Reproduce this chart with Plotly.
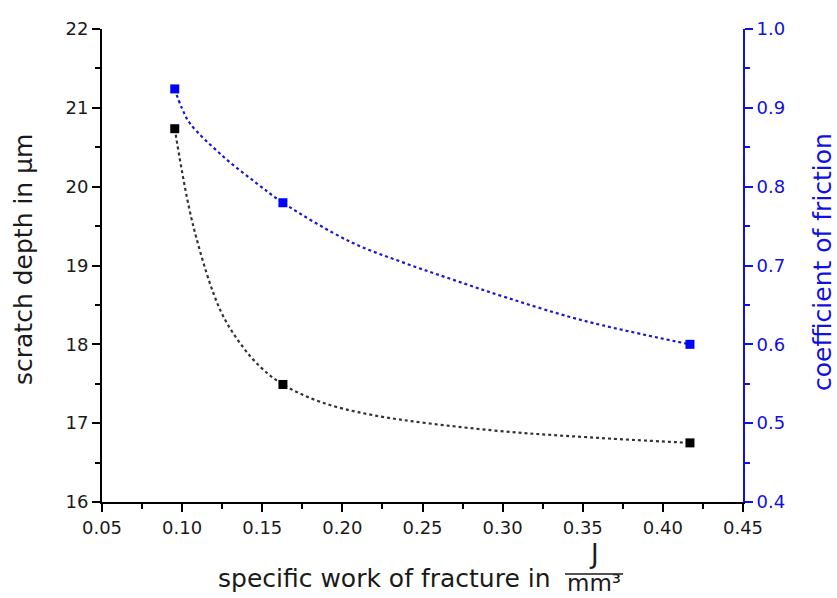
import plotly.graph_objects as go

# measured points
x_pts = [0.0954, 0.1629, 0.4169]
depth_pts = [20.735, 17.491, 16.750]
cof_pts = [0.924, 0.7796, 0.600]

# dotted fit curves
depth_curve_x = [0.0954, 0.1071, 0.1238, 0.1363, 0.1488, 0.1629, 0.1863, 0.2196,
                 0.2925, 0.3550, 0.4169]
depth_curve_y = [20.735, 19.49, 18.434, 18.011, 17.714, 17.491, 17.270, 17.100,
                 16.911, 16.819, 16.750]
cof_curve_x = [0.0952, 0.1000, 0.1050, 0.1258, 0.1467, 0.1629, 0.2050, 0.2363, 0.2675,
               0.3029, 0.3506, 0.4169]
cof_curve_y = [0.924, 0.899, 0.880, 0.838, 0.804, 0.7796, 0.730, 0.705, 0.683,
               0.659, 0.630, 0.600]

x_ticks = [0.05, 0.10, 0.15, 0.20, 0.25, 0.30, 0.35, 0.40, 0.45]
left_ticks = [16, 17, 18, 19, 20, 21, 22]
right_ticks = [0.4, 0.5, 0.6, 0.7, 0.8, 0.9, 1.0]

BLUE = "#0000ff"
AXBLUE = "#1010e0"
TXT = "#1a1a1a"
FONT = "DejaVu Sans, Verdana, sans-serif"

fig = go.Figure()
fig.add_trace(go.Scatter(x=depth_curve_x, y=depth_curve_y, mode="lines",
                         line=dict(color="#333333", width=2.2, dash="dot", shape="spline"),
                         showlegend=False, hoverinfo="skip"))
fig.add_trace(go.Scatter(x=cof_curve_x, y=cof_curve_y, mode="lines", yaxis="y2",
                         line=dict(color="#1818d0", width=2.2, dash="dot", shape="spline"),
                         showlegend=False, hoverinfo="skip"))
fig.add_trace(go.Scatter(x=x_pts, y=depth_pts, mode="markers",
                         marker=dict(symbol="square", size=9, color="black"),
                         showlegend=False))
fig.add_trace(go.Scatter(x=x_pts, y=cof_pts, mode="markers", yaxis="y2",
                         marker=dict(symbol="square", size=9, color=BLUE),
                         showlegend=False))

tickfont = dict(family=FONT, size=18, color=TXT)
fig.update_layout(
    width=837, height=598,
    margin=dict(l=102, r=94, t=29, b=96),
    plot_bgcolor="white", paper_bgcolor="white",
    font=dict(family=FONT),
    xaxis=dict(range=[0.05, 0.45], tickvals=x_ticks, ticktext=[f"{v:.2f}" for v in x_ticks],
               showgrid=False, zeroline=False, showline=True, linecolor="black", linewidth=2,
               ticks="outside", ticklen=8, tickwidth=2, tickcolor="black", tickfont=tickfont,
               minor=dict(dtick=0.025, tick0=0.05, ticks="outside", ticklen=5, tickwidth=2,
                          tickcolor="black", showgrid=False)),
    yaxis=dict(range=[16, 22], tickvals=left_ticks, showgrid=False, zeroline=False,
               showline=True, linecolor="black", linewidth=2,
               ticks="outside", ticklen=8, tickwidth=2, tickcolor="black", tickfont=tickfont,
               minor=dict(dtick=0.5, tick0=16, ticks="outside", ticklen=5, tickwidth=2,
                          tickcolor="black", showgrid=False)),
    yaxis2=dict(range=[0.4, 1.0], tickvals=right_ticks, ticktext=[f"{v:.1f}" for v in right_ticks],
                overlaying="y", side="right", showgrid=False, zeroline=False,
                showline=True, linecolor=AXBLUE, linewidth=2,
                ticks="outside", ticklen=8, tickwidth=2, tickcolor=AXBLUE,
                tickfont=dict(family=FONT, size=18, color=AXBLUE),
                minor=dict(dtick=0.05, tick0=0.4, ticks="outside", ticklen=5, tickwidth=2,
                           tickcolor=AXBLUE, showgrid=False)),
)

W, H = 641.0, 473.0
def px(x):
    return (x - 102) / W
def py(y):
    return (502 - y) / H

ann = [
    dict(text="scratch depth in µm", x=px(23), y=py(260), textangle=-90,
         font=dict(size=25, color=TXT)),
    dict(text="coefficient of friction", x=px(822), y=py(262), textangle=-90,
         font=dict(size=25, color=AXBLUE)),
    dict(text="specific work of fracture in", x=px(553), y=py(578), xanchor="right",
         font=dict(size=25, color=TXT)),
    dict(text="J", x=px(594), y=py(571), yanchor="bottom", font=dict(size=26, color=TXT)),
    dict(text="mm³", x=px(594), y=py(598), yanchor="bottom", font=dict(size=23, color=TXT)),
]
for a in ann:
    a.update(xref="paper", yref="paper", showarrow=False)
    a.setdefault("xanchor", "center")
    a.setdefault("yanchor", "middle")
    a["font"]["family"] = FONT
fig.update_layout(annotations=ann)
fig.add_shape(type="line", xref="paper", yref="paper", x0=px(565), x1=px(623),
              y0=py(574), y1=py(574), line=dict(color=TXT, width=1.5))

fig.write_html("out.html")
